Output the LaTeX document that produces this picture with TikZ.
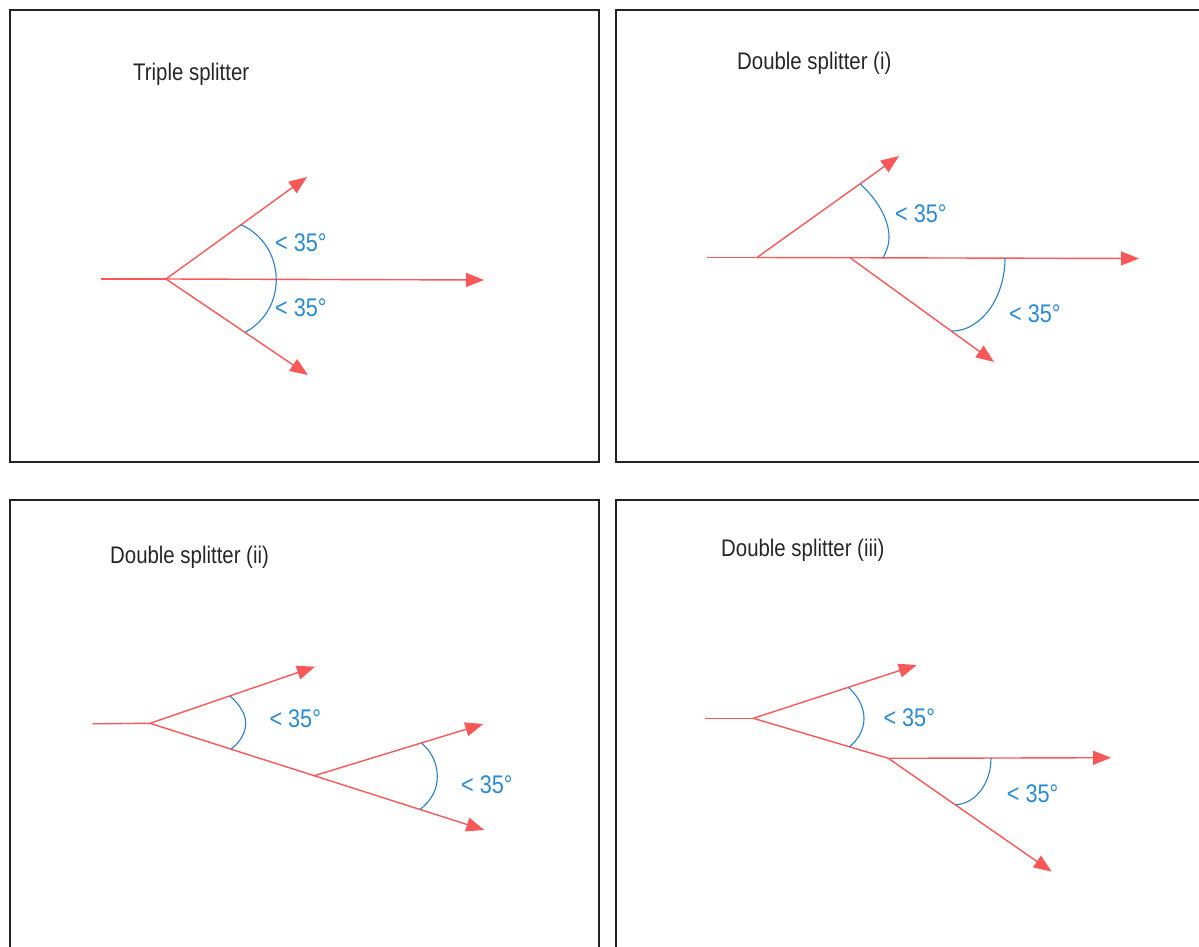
\documentclass[tikz,border=0pt]{standalone}
\usepackage{fontspec}
\setmainfont{Liberation Sans}[FakeStretch=0.85]
\usetikzlibrary{arrows.meta}
\definecolor{rd}{RGB}{250,88,88}
\definecolor{bl}{RGB}{40,128,198}
\definecolor{bltx}{RGB}{44,138,210}
\definecolor{frm}{RGB}{34,34,34}
\begin{document}
\begin{tikzpicture}[x=1pt,y=-1pt,
  ray/.style={draw=rd,line width=1.4pt},
  arr/.style={ray,-{Triangle[length=18pt,width=14pt]}},
  ang/.style={draw=bl,line width=1.1pt},
  ttl/.style={anchor=base west,inner sep=0pt,font=\fontsize{24}{28}\selectfont,text=black!85},
  lbl/.style={anchor=base west,inner sep=0pt,font=\fontsize{25.5}{29}\selectfont,text=bltx},
  panel/.style={draw=frm,line width=1.3pt}]
\useasboundingbox (0,0) rectangle (1199,947);
\clip (0,0) rectangle (1199,947);
% panels
\draw[panel] (10,10) rectangle (599,462);
\draw[panel] (616,10) rectangle (1215,462);
\draw[panel] (10,500) rectangle (599,965);
\draw[panel] (616,500) rectangle (1215,965);

% ---------- Panel 1: triple splitter
\node[ttl] (t1) at (133,80.7) {Triple splitter};
\coordinate (p1in) at (101,279);
\coordinate (p1j) at (166,279);
\coordinate (p1m) at (484,280);
\coordinate (p1u) at (307,177);
\coordinate (p1d) at (308,375);
\draw[ray] (p1in) -- (p1j);
\draw[arr] (p1j) -- (p1m);
\draw[arr] (p1j) -- (p1u);
\draw[arr] (p1j) -- (p1d);
\coordinate (p1a) at (241,224.7);
\coordinate (p1b) at (245,332.4);
\draw[ang] (p1a) .. controls (286,245) and (288.5,309) .. (p1b);
\node[lbl] (l1a) at (275,251.3) {< 35°};
\node[lbl] (l1b) at (275,316.7) {< 35°};

% ---------- Panel 2: double splitter (i)
\node[ttl] (t2) at (737,70) {Double splitter (i)};
\coordinate (p2in) at (707,257.5);
\coordinate (p2j1) at (757,257.5);
\coordinate (p2j2) at (850,257.7);
\coordinate (p2m) at (1139,258.5);
\coordinate (p2u) at (899,156);
\coordinate (p2d) at (994,362);
\draw[ray] (p2in) -- (p2j1);
\draw[arr] (p2j1) -- (p2m);
\draw[arr] (p2j1) -- (p2u);
\draw[arr] (p2j2) -- (p2d);
\coordinate (p2a) at (860,183.8);
\coordinate (p2b) at (889,237);
\coordinate (p2c) at (883,257.8);
\draw[ang] (p2a) .. controls (878,200) and (889,220) .. (p2b)
  .. controls (889,246) and (886,252) .. (p2c);
\coordinate (p2e) at (1005,258);
\coordinate (p2f) at (951.7,331.1);
\draw[ang] (p2e) .. controls (1005,298) and (981,331.1) .. (p2f);
\node[lbl] (l2a) at (895,222.3) {< 35°};
\node[lbl] (l2b) at (1009,322.7) {< 35°};

% ---------- Panel 3: double splitter (ii)
\node[ttl] (t3) at (110,563.5) {Double splitter (ii)};
\coordinate (p3in) at (92.7,723.8);
\coordinate (p3j1) at (150,723.3);
\coordinate (p3u) at (315,666.7);
\coordinate (p3d) at (484.3,830);
\coordinate (p3j2) at (314.3,775.7);
\coordinate (p3u2) at (483.3,724);
\draw[ray] (p3in) -- (p3j1);
\draw[arr] (p3j1) -- (p3u);
\draw[arr] (p3j1) -- (p3d);
\draw[arr] (p3j2) -- (p3u2);
\coordinate (p3a) at (230,695.9);
\coordinate (p3b) at (245.7,723.3);
\coordinate (p3c) at (231,749.1);
\draw[ang] (p3a) .. controls (240,705) and (245.7,714) .. (p3b)
  .. controls (245.7,733) and (240,742) .. (p3c);
\coordinate (p3e) at (421.7,743.2);
\coordinate (p3f) at (437.3,776.7);
\coordinate (p3g) at (420,809.4);
\draw[ang] (p3e) .. controls (432,752) and (437.3,764) .. (p3f)
  .. controls (437.3,790) and (431,801) .. (p3g);
\node[lbl] (l3a) at (269.3,727.3) {< 35°};
\node[lbl] (l3b) at (461,793.3) {< 35°};

% ---------- Panel 4: double splitter (iii)
\node[ttl] (t4) at (721,556.7) {Double splitter (iii)};
\coordinate (p4in) at (705,718.3);
\coordinate (p4j1) at (753.3,718.3);
\coordinate (p4u) at (916.7,665);
\coordinate (p4j2) at (888.3,758.3);
\coordinate (p4m) at (1111,757.7);
\coordinate (p4d) at (1051.7,871.7);
\draw[ray] (p4in) -- (p4j1);
\draw[arr] (p4j1) -- (p4u);
\draw[ray] (p4j1) -- (p4j2);
\draw[arr] (p4j2) -- (p4m);
\draw[arr] (p4j2) -- (p4d);
\coordinate (p4a) at (848.3,687.3);
\coordinate (p4b) at (864,718.3);
\coordinate (p4c) at (849.3,746.7);
\draw[ang] (p4a) .. controls (858,696) and (864,707) .. (p4b)
  .. controls (864,730) and (858,740) .. (p4c);
\coordinate (p4e) at (991,758);
\coordinate (p4f) at (955,804.6);
\draw[ang] (p4e) .. controls (991,783.7) and (974.9,804.6) .. (p4f);
\node[lbl] (l4a) at (883.3,726.7) {< 35°};
\node[lbl] (l4b) at (1006.7,802.7) {< 35°};
\end{tikzpicture}
\end{document}
